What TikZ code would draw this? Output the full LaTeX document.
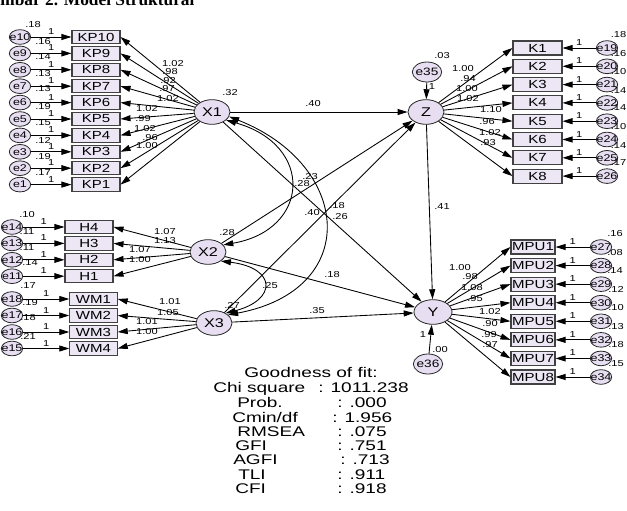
\documentclass[tikz,border=0pt]{standalone}
\usepackage{fontspec}
\setmainfont{Liberation Sans}
\newfontfamily\wsf{Liberation Sans}[FakeStretch=1.28]
\newfontfamily\wsfb{Liberation Sans}[FakeStretch=1.36]
\newfontfamily\ttlfont{Liberation Serif}
\usetikzlibrary{arrows.meta,shapes.geometric}
\definecolor{boxfill}{RGB}{236,230,245}
\definecolor{latfill}{RGB}{231,222,242}
\definecolor{boxline}{RGB}{65,65,65}
\tikzset{
  obs/.style={draw=boxline, fill=boxfill, line width=0.8pt, minimum height=10pt, inner sep=0pt, font=\wsf\fontsize{8.8}{8.8}\selectfont},
  lat/.style={ellipse, draw=black!85, fill=latfill, line width=0.6pt, minimum width=27pt, minimum height=18.5pt, inner sep=0pt, font=\wsf\fontsize{9.5}{9.5}\selectfont},
  err/.style={ellipse, draw=black!85, fill=latfill, line width=0.6pt, minimum width=16pt, minimum height=11pt, inner sep=0pt},
  etxt/.style={inner sep=0pt, font=\wsf\fontsize{7.3}{7.3}\selectfont},
  arr/.style={-{Triangle[length=7.5pt,width=4.5pt]}, line width=0.65pt},
  dblarr/.style={{Triangle[length=7.5pt,width=4.5pt]}-{Triangle[length=7.5pt,width=4.5pt]}, line width=0.65pt},
  lbl/.style={inner sep=0pt, font=\wsf\fontsize{6.5}{6.5}\selectfont},
  one/.style={inner sep=1.5pt, font=\wsf\fontsize{6.5}{6.5}\selectfont},
  gof/.style={anchor=base west, inner sep=0pt, font=\wsfb\fontsize{10.5}{10.5}\selectfont}
}
\begin{document}
\begin{tikzpicture}[x=0.75pt,y=-0.75pt]
\useasboundingbox (0,0) rectangle (627,510);
% title (cut off at top)
\node[anchor=base west, inner sep=0pt, font=\ttlfont\bfseries\fontsize{13}{13}\selectfont] (title) at (-22,5.5) {Gambar 2. Model Struktural};

% latent variables
\node[lat] (X1) at (212,112) {X1};
\node[lat] (X2) at (208,252) {X2};
\node[lat] (X3) at (214,323) {X3};
\node[lat] (Z) at (426,112) {Z};
\node[lat, minimum width=28.5pt] (Y) at (433,312) {Y};
\node[err, minimum width=22pt, minimum height=15pt, label={[etxt,font=\wsf\fontsize{8}{8}\selectfont]center:e35}] (e35) at (427,72) {};
\node[err, minimum width=22pt, minimum height=15pt, label={[etxt,font=\wsf\fontsize{8}{8}\selectfont]center:e36}] (e36) at (428,364) {};

% KP block
\foreach \i [evaluate=\i as \yy using 37+16.4*\i, evaluate=\i as \n using int(10-\i)] in {0,...,9} {
  \node[obs, minimum width=36pt] (KP\n) at (96,\yy) {KP\n};
  \node[err, label={[etxt]center:e\n}] (e\n) at (20,\yy) {};
  \draw[arr] (e\n) -- node[one, above] {1} (KP\n.west);
  \draw[arr] (X1) -- (KP\n.east);
}
% H block
\foreach \i/\h/\e in {0/4/14,1/3/13,2/2/12,3/1/11} {
  \node[obs, minimum width=36pt] (H\h) at (89,{227+16.4*\i}) {H\h};
  \node[err, label={[etxt]center:e\e}] (e\e) at (12,{227+16.4*\i}) {};
  \draw[arr] (e\e) -- node[one, above] {1} (H\h.west);
  \draw[arr] (X2) -- (H\h.east);
}
% WM block
\foreach \i/\h/\e in {0/1/18,1/2/17,2/3/16,3/4/15} {
  \node[obs, minimum width=35.5pt] (WM\h) at (93.5,{299+16.5*\i}) {WM\h};
  \node[err, label={[etxt]center:e\e}] (e\e) at (12,{299+16.5*\i}) {};
  \draw[arr] (e\e) -- node[one, above] {1} (WM\h.west);
  \draw[arr] (X3) -- (WM\h.east);
}
% K block
\foreach \i [evaluate=\i as \yy using 48+18.3*\i, evaluate=\i as \k using int(\i+1), evaluate=\i as \e using int(\i+19)] in {0,...,7} {
  \node[obs, minimum width=36.75pt, minimum height=10.5pt] (K\k) at (537.5,\yy) {K\k};
  \node[err, label={[etxt]center:e\e}] (e\e) at (607,\yy) {};
  \draw[arr] (e\e) -- node[one, above] {1} (K\k.east);
  \draw[arr] (Z) -- (K\k.west);
}
% MPU block
\foreach \i [evaluate=\i as \yy using 247+18.57*\i, evaluate=\i as \k using int(\i+1), evaluate=\i as \e using int(\i+27)] in {0,...,7} {
  \node[obs, minimum width=33pt, minimum height=10.5pt] (MPU\k) at (533,\yy) {MPU\k};
  \node[err, label={[etxt]center:e\e}] (e\e) at (601,\yy) {};
  \draw[arr] (e\e) -- node[one, above] {1} (MPU\k.east);
  \draw[arr] (Y) -- (MPU\k.west);
}

% structural paths
\draw[arr] (X1) -- (Z);
\draw[arr] (X1) -- (Y);
\draw[arr] (X2) -- (Z);
\draw[arr] (X3) -- (Z);
\draw[arr] (X2) -- (Y);
\draw[arr] (X3) -- (Y);
\draw[arr] (Z) -- (Y);
\draw[arr] (e35) -- (Z);
\draw[arr] (e36) -- (Y);
% covariances
\draw[dblarr] (X1.-30) .. controls (315,145) and (310,230) .. (X2.25);
\draw[dblarr] (X1.-15) .. controls (352,165) and (362,290) .. (X3.30);
\draw[dblarr] (X2.-35) .. controls (277,268) and (277,300) .. (X3.40);

% loading / path labels
\foreach \x/\y/\t in {
  173/64/1.02, 170/72/.98, 168/81/.92, 167/89/.97, 168/99/1.02,
  147/109/1.02, 143/119/.99, 145/129/1.02, 150/138/.96, 147/146/1.00,
  230/93/.32,
  165/232/1.07, 165/241/1.13, 140/250/1.07, 140/260/1.00, 227/233/.28,
  170/302/1.01, 168/313/1.05, 147/322/1.01, 147/332/1.00, 232/305/.27,
  463/69/1.00, 468/79/.94, 467/89/1.00, 468/99/1.02, 491/110/1.10, 487/122/.96, 490/133/1.02, 488/143/.93,
  460/268/1.00, 470/277/.98, 472/288/1.08, 475/299/.95, 490/312/1.02, 490/324/.90, 489/335/.99, 490/345/.97,
  313/104/.40, 310/177/.23, 302/184/.28, 312/213/.40, 337/206/.18, 340/217/.26,
  332/275/.18, 270/286/.25, 317/311/.35, 442/207/.41,
  442/56/.03, 440/350/.00, 432/87/1, 423/335/1}
  \node[lbl] at (\x,\y) {\t};
% variances of error terms
\foreach \x/\y/\t in {
  33/25/.18, 43/42/.16, 43/57/.14, 43/74/.13, 43/89/.13, 43/107/.19, 43/123/.15, 43/140/.12, 43/157/.19, 43/173/.17,
  27/215/.10, 27/232/.11, 27/248/.11, 30/263/.14,
  28/286/.17, 30/303/.19, 28/318/.18, 28/336/.21,
  615/234/.16, 615/253/.08, 615/271/.14, 616/289/.12, 616/308/.10, 616/327/.13, 616/345/.18, 616/364/.15}
  \node[lbl] at (\x,\y) {\t};
\foreach \y/\t in {35/.18, 54/.16, 72/.10, 91/.14, 108/.14, 127/.10, 146/.14, 163/.17}
  \node[lbl, anchor=east] at (626.5,\y) {\t};

% goodness of fit
\node[anchor=base, inner sep=0pt, font=\wsfb\fontsize{10.5}{10.5}\selectfont] (gt) at (311,377) {Goodness of fit:};
\foreach \x/\y/\t/\v/\vx in {
  213/392/{Chi square}/{: 1011.238}/318,
  237/407/{Prob.}/{: .000}/337,
  232/422/{Cmin/df}/{: 1.956}/332,
  237/436/{RMSEA}/{: .075}/337,
  235/450/{GFI}/{: .751}/337,
  233/464/{AGFI}/{: .713}/340,
  238/479/{TLI}/{: .911}/337,
  235/493/{CFI}/{: .918}/337} {
  \node[gof] at (\x,\y) {\t};
  \node[gof] at (\vx,\y) {\v};
}
\end{tikzpicture}
\end{document}
